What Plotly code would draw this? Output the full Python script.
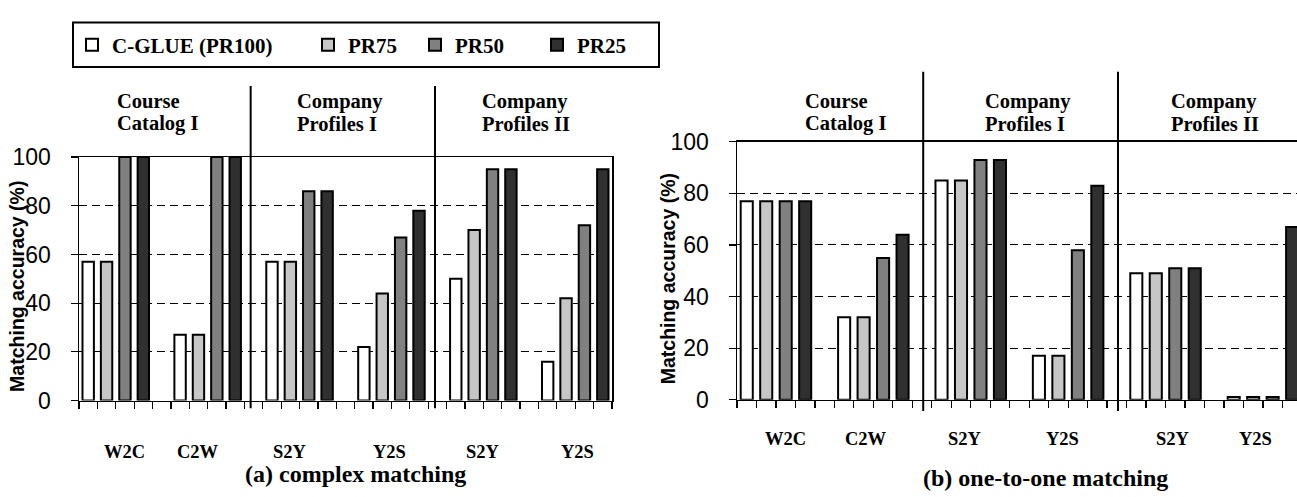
import plotly.graph_objects as go

# ---------------- data ----------------
categories = ["W2C", "C2W", "S2Y", "Y2S", "S2Y", "Y2S"]
group_titles = [("Course", "Catalog I"), ("Company", "Profiles I"), ("Company", "Profiles II")]
series_names = ["C-GLUE (PR100)", "PR75", "PR50", "PR25"]

complex_pr100 = [57, 27, 57, 22, 50, 16]
complex_pr75 = [57, 27, 57, 44, 70, 42]
complex_pr50 = [100, 100, 86, 67, 95, 72]
complex_pr25 = [100, 100, 86, 78, 95, 95]

onetoone_pr100 = [77, 32, 85, 17, 49, 1]
onetoone_pr75 = [77, 32, 85, 17, 49, 1]
onetoone_pr50 = [77, 55, 93, 58, 51, 1]
onetoone_pr25 = [77, 64, 93, 83, 51, 67]

y_ticks = [0, 20, 40, 60, 80, 100]
chart_titles = ["(a) complex matching", "(b) one-to-one matching"]
y_title = "Matching accuracy (%)"

# ---------------- styling ----------------
W, H = 1297, 497
colors = ["#ffffff", "#c6c6c6", "#808080", "#303030"]
SERIF = "Liberation Serif"
SANS = "Liberation Sans"


def px(x):
    return x / W


def py(y):
    return 1 - y / H


complex_series = [complex_pr100, complex_pr75, complex_pr50, complex_pr25]
onetoone_series = [onetoone_pr100, onetoone_pr75, onetoone_pr50, onetoone_pr25]

fig = go.Figure()
legend_names = ["legend", "legend2", "legend3", "legend4"]
for k, name in enumerate(series_names):
    xs = [5 * g + k for g in range(len(categories))]
    fig.add_trace(go.Bar(
        x=xs, y=complex_series[k], name=name, width=0.62,
        marker=dict(color=colors[k], line=dict(color="black", width=2)),
        xaxis="x", yaxis="y", legend=legend_names[k], showlegend=True,
    ))
    fig.add_trace(go.Bar(
        x=xs, y=onetoone_series[k], name=name, width=0.62,
        marker=dict(color=colors[k], line=dict(color="black", width=2)),
        xaxis="x2", yaxis="y2", showlegend=False,
    ))

boundaries = [j - 0.5 for j in range(30)]

xaxis_common = dict(
    tickvals=boundaries, ticks="outside", ticklen=7, tickwidth=1.2, tickcolor="black",
    showticklabels=False, showline=True, linecolor="black", linewidth=1.5,
    showgrid=False, zeroline=False, fixedrange=True,
)
yaxis_common = dict(
    range=[0, 100], tickvals=y_ticks, ticks="outside", ticklen=7, tickwidth=1.2,
    tickcolor="black", showline=True, linecolor="black", linewidth=1.5,
    showgrid=True, gridcolor="black", gridwidth=1, griddash="8px,5px",
    zeroline=False, tickfont=dict(family=SANS, size=23, color="black"),
    ticklabelstandoff=15, fixedrange=True,
)

L_X0, L_X1 = 79, 612
L_Y100, L_Y0 = 152, 409
R_X0, R_X1 = 737, 1297
R_Y100, R_Y0 = 136, 408

fig.update_layout(
    width=W, height=H, margin=dict(l=0, r=0, t=0, b=0),
    paper_bgcolor="white", plot_bgcolor="white", barmode="overlay",
    xaxis=dict(domain=[px(L_X0), px(L_X1)], range=[-0.5, 28.5], mirror=True, anchor="y", **xaxis_common),
    yaxis=dict(domain=[py(L_Y0), py(L_Y100)], mirror=True, anchor="x", **yaxis_common),
    xaxis2=dict(domain=[px(R_X0), px(R_X1)], range=[-0.5, 28.25], mirror=True, anchor="y2", **xaxis_common),
    yaxis2=dict(domain=[py(R_Y0), py(R_Y100)], mirror=False, anchor="x2", **yaxis_common),
)

# legends (one per series, placed inside a drawn box)
legend_text_starts = [112, 348, 455, 577]
for k, ln in enumerate(legend_names):
    fig.layout[ln] = dict(
        x=px(legend_text_starts[k] - 40), y=py(34), xanchor="left", yanchor="middle",
        orientation="h", bgcolor="rgba(0,0,0,0)", borderwidth=0,
        font=dict(family=SERIF, size=21, color="black", weight="bold"),
    )

shapes = [dict(type="rect", xref="paper", yref="paper",
               x0=px(73), x1=px(659), y0=py(57), y1=py(10),
               line=dict(color="black", width=2), fillcolor="rgba(0,0,0,0)")]

# group dividers
for xv in [8.84, 18.87]:
    shapes.append(dict(type="line", xref="x", yref="paper", x0=xv, x1=xv,
                       y0=py(417), y1=py(77), line=dict(color="black", width=2)))
for xv in [9.06, 19.06]:
    shapes.append(dict(type="line", xref="x2", yref="paper", x0=xv, x1=xv,
                       y0=py(420), y1=py(62), line=dict(color="black", width=2)))
fig.update_layout(shapes=shapes)

ann = []
title_font = dict(family=SERIF, size=20.5, color="black", weight="bold")
left_title_x = [115, 295, 480]
right_title_x = [803, 983, 1169]
for g, (l1, l2) in enumerate(group_titles):
    for xs in (left_title_x[g], right_title_x[g]):
        ann.append(dict(text=l1, x=px(xs), y=py(93), xref="paper", yref="paper",
                        xanchor="left", yanchor="middle", showarrow=False, font=title_font))
        ann.append(dict(text=l2, x=px(xs), y=py(117), xref="paper", yref="paper",
                        xanchor="left", yanchor="middle", showarrow=False, font=title_font))

cat_font = dict(family=SERIF, size=18.5, color="black", weight="bold")
left_label_pos = [2.0, 6.0, 11.0, 16.4, 21.5, 26.6]
right_label_pos = [1.97, 6.13, 11.2, 16.2, 21.9, 26.1]
for i, c in enumerate(categories):
    ann.append(dict(text=c, x=left_label_pos[i], y=py(463), xref="x", yref="paper",
                    xanchor="center", yanchor="middle", showarrow=False, font=cat_font))
    ann.append(dict(text=c, x=right_label_pos[i], y=py(450), xref="x2", yref="paper",
                    xanchor="center", yanchor="middle", showarrow=False, font=cat_font))

big_font = dict(family=SERIF, size=24, color="black", weight="bold")
ann.append(dict(text=chart_titles[0], x=px(355), y=py(486), xref="paper", yref="paper",
                xanchor="center", yanchor="middle", showarrow=False, font=big_font))
ann.append(dict(text=chart_titles[1], x=px(1045), y=py(491), xref="paper", yref="paper",
                xanchor="center", yanchor="middle", showarrow=False, font=big_font))

ytitle_font = dict(family=SANS, size=19.5, color="black", weight="bold")
ann.append(dict(text=y_title, x=px(17), y=py(289), xref="paper", yref="paper", textangle=-90,
                xanchor="center", yanchor="middle", showarrow=False, font=ytitle_font))
ann.append(dict(text=y_title, x=px(668), y=py(281), xref="paper", yref="paper", textangle=-90,
                xanchor="center", yanchor="middle", showarrow=False, font=ytitle_font))
fig.update_layout(annotations=ann)

fig.write_html(
    "out.html",
    config={"displayModeBar": False, "staticPlot": True},
    post_script="document.body.style.margin='0px';document.body.style.overflow='hidden';",
)
